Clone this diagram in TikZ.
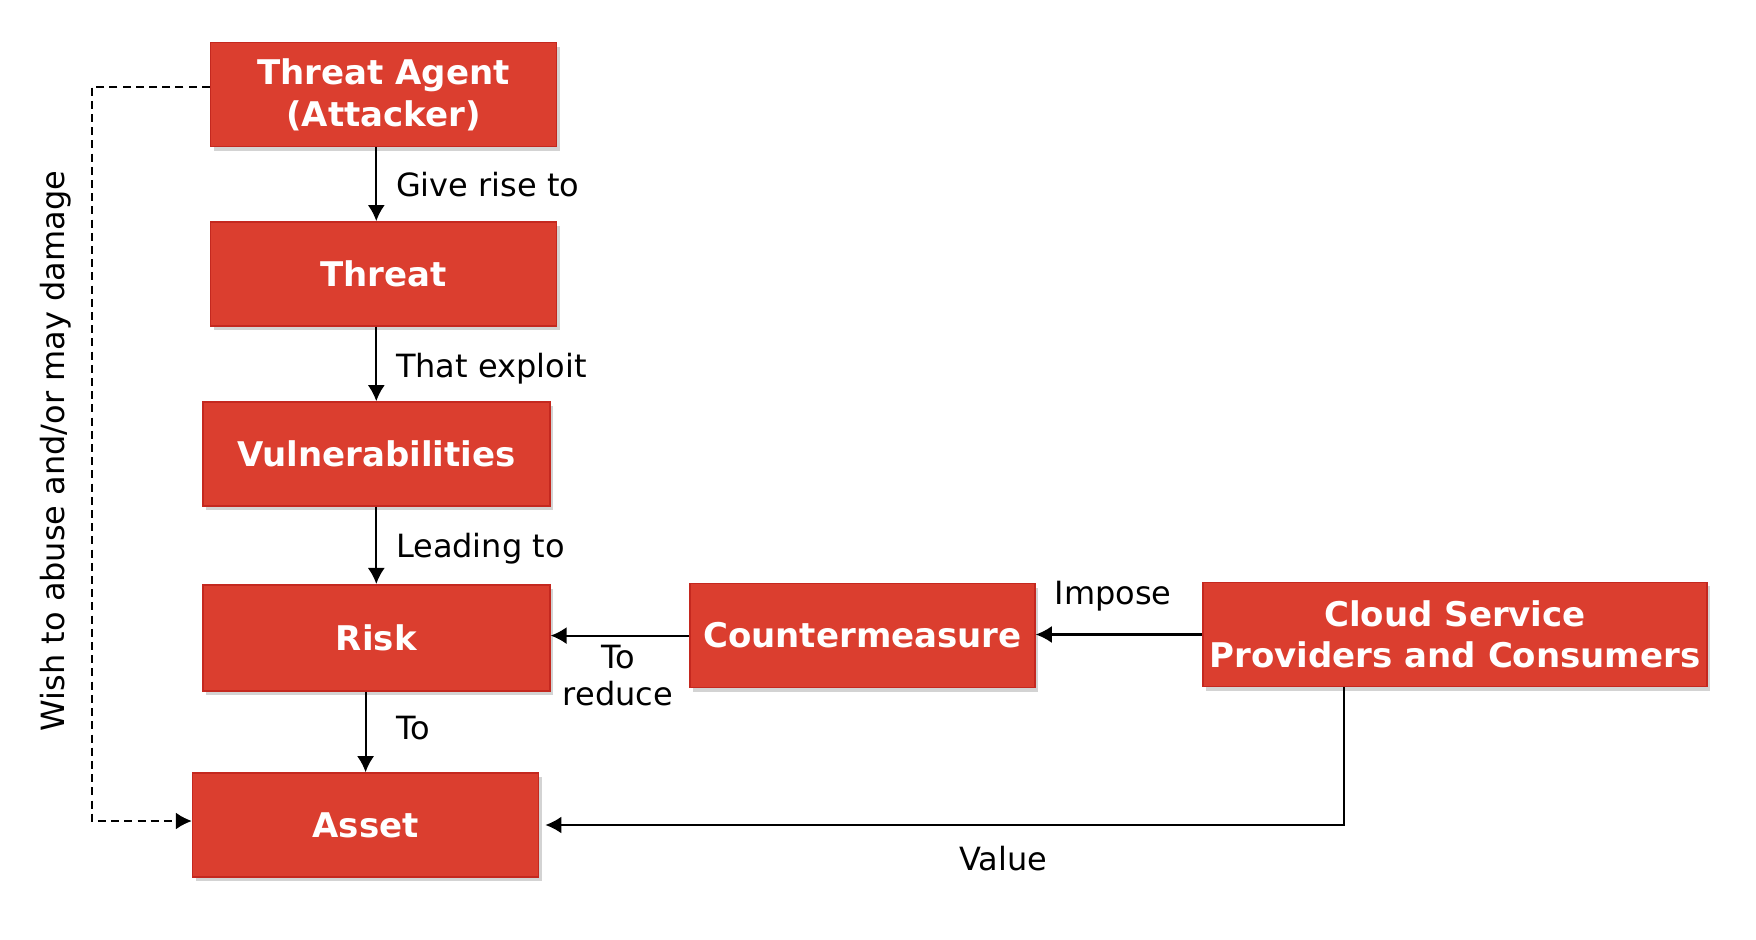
\documentclass[tikz,border=0pt]{standalone}
\usepackage{fontspec}
\setmainfont{DejaVu Sans}
\usepackage{xcolor}
\usepackage{tikz}
\usetikzlibrary{arrows.meta, positioning, calc, shadows}

\definecolor{boxred}{RGB}{219,62,47}
\definecolor{boxedge}{RGB}{196,40,31}

\begin{document}
\begin{tikzpicture}[x=0.5pt,y=-0.5pt,
  redbox/.style={draw=boxedge, line width=0.8pt, fill=boxred, text=white,
    font=\fontsize{17}{20.7}\selectfont\bfseries, align=center,
    minimum height=52pt, inner sep=1pt,
    drop shadow={opacity=0.35, shadow xshift=1.5pt, shadow yshift=-2pt}},
  lbl/.style={font=\fontsize{16}{18.5}\selectfont, align=center},
  arr/.style={line width=1pt, -{Latex[length=8pt,width=8.5pt]}},
  dashline/.style={arr, dash pattern=on 4pt off 2.6pt}]
  \useasboundingbox (0,0) rectangle (1756,940);

  % Boxes
  \node[redbox, minimum width=173pt] (agent)  at (383.6,94.7)  {Threat Agent\\(Attacker)};
  \node[redbox, minimum width=173pt] (threat) at (383.6,273.9) {Threat};
  \node[redbox, minimum width=173.5pt] (vuln) at (376.3,454)   {Vulnerabilities};
  \node[redbox, minimum width=173.5pt, minimum height=53pt] (risk) at (376.3,637.8) {Risk};
  \node[redbox, minimum width=173pt] (asset)  at (365.6,825)   {Asset};
  \node[redbox, minimum width=172.5pt] (counter) at (862.5,635.6) {Countermeasure};
  \node[redbox, minimum width=252pt] (cloud)  at (1455,634.5)  {Cloud Service\\Providers and Consumers};

  % Helper coordinates
  \coordinate (wishx)  at (92,0);
  \coordinate (valuex) at (1344,0);

  % Main chain
  \draw[arr] (agent.south -| vuln.north) -- (threat.north -| vuln.north);
  \draw[arr] (threat.south -| vuln.north) -- (vuln.north);
  \draw[arr] (vuln.south) -- (risk.north);
  \draw[arr] (risk.south -| asset.north) -- (asset.north);

  % Right side
  \draw[arr] (cloud.west) -- (cloud.west -| counter.east);
  \draw[arr] (counter.west) -- (counter.west -| risk.east);
  \draw[arr] (cloud.south -| valuex) |- ([xshift=3pt]asset.east);

  % Dashed link
  \draw[dashline] ([yshift=4pt]agent.west) -- ([yshift=4pt]agent.west -| wishx)
    -- ([yshift=2pt]asset.west -| wishx) -- ([yshift=2pt]asset.west);

  % Labels
  \node[lbl, anchor=west] (giverise) at (389,185)   {Give rise to};
  \node[lbl, anchor=west] (exploit)  at (389,369) {That exploit};
  \node[lbl, anchor=west] (leading)  at (389,548.5) {Leading to};
  \node[lbl, anchor=west] (tolbl)    at (389,728)   {To};
  \node[lbl] (reduce) at (618,676)   {To\\reduce};
  \node[lbl] (impose) at (1113,596)  {Impose};
  \node[lbl] (value)  at (1003.5,859) {Value};
  \node[lbl, rotate=90] (wish) at (56,451) {Wish to abuse and/or may damage};
\end{tikzpicture}
\end{document}
